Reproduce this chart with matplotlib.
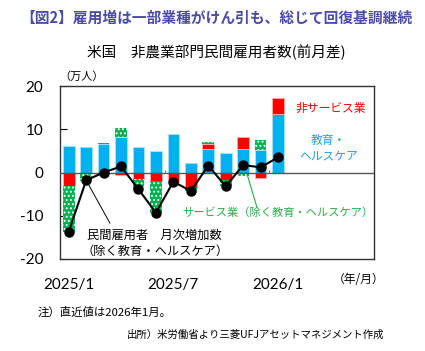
import matplotlib
matplotlib.use("Agg")
import matplotlib.pyplot as plt
import numpy as np

plt.rcParams['font.family'] = ['Noto Sans CJK JP', 'DejaVu Sans']
plt.rcParams['hatch.linewidth'] = 0.9

months = ["2025/1", "2025/2", "2025/3", "2025/4", "2025/5", "2025/6", "2025/7",
          "2025/8", "2025/9", "2025/10", "2025/11", "2025/12", "2026/1"]
edu_health = [6.1, 5.8, 6.7, 8.3, 6.0, 5.0, 8.8, 2.3, 5.4, 4.5, 5.5, 5.2, 13.6]
non_service = [-3.1, 0.2, -0.1, -0.5, -1.6, -1.9, -2.3, -3.6, 1.2, -1.8, 2.6, -1.2, 3.7]
service_ex = [-10.6, -2.0, 0.1, 1.9, -2.3, -7.4, 0.2, -0.7, 0.4, -1.4, -0.9, 2.4, -0.2]
private_ex = [-13.7, -1.8, 0.0, 1.4, -3.9, -9.3, -2.1, -4.3, 1.6, -3.2, 1.7, 1.2, 3.5]
tick_labels = ["2025/1", "2025/7", "2026/1"]
tick_idx = [0, 6, 12]

fig = plt.figure(figsize=(4.25, 3.51), dpi=100)
ax = fig.add_axes([60/425, 1-259/351, 314/425, 173/351])

x = np.arange(len(months))
w = 0.67
blue = '#00B0F0'
red = '#FF0000'
green = '#00B050'

pos_bottom = np.zeros(len(x))
neg_bottom = np.zeros(len(x))

def stack(vals, **kw):
    global pos_bottom, neg_bottom
    vals = np.array(vals, dtype=float)
    bottoms = np.where(vals >= 0, pos_bottom, neg_bottom)
    ax.bar(x, vals, w, bottom=bottoms, zorder=2, **kw)
    pos_bottom = pos_bottom + np.where(vals >= 0, vals, 0)
    neg_bottom = neg_bottom + np.where(vals < 0, vals, 0)

stack(edu_health, color=blue, edgecolor='#A8E2F8', linewidth=0.6)
stack(non_service, color=red, edgecolor='#FFB0B0', linewidth=0.6)
stack(service_ex, facecolor=green, edgecolor='white', linewidth=0.0, hatch='....')

ax.axhline(0, color='#555555', lw=1.0, zorder=3)
ax.vlines([5.5, 11.5], 0, 0.6, color='#777777', lw=0.8, zorder=3)
ax.plot(x, private_ex, color='black', lw=1.5, marker='o', ms=6.5, zorder=4)

ax.set_xlim(-0.5, 17.5)
ax.set_ylim(-20, 20)
ax.set_yticks([-20, -10, 0, 10, 20])
ax.set_yticklabels(['-20', '-10', '0', '10', '20'], fontfamily='Lato', fontsize=11)
ax.tick_params(axis='y', direction='in', length=5, pad=12, colors='black')
ax.set_xticks(tick_idx)
ax.set_xticklabels(tick_labels, fontfamily='Lato', fontsize=11)
ax.tick_params(axis='x', length=0, pad=14)
for s in ax.spines.values():
    s.set_color('#333333')
    s.set_linewidth(1.0)

ax.text(-0.55, 21.0, '（万人）', fontsize=8, ha='left', va='bottom')
ax.text(16.6, -24.8, '（年/月）', fontsize=8.5, ha='center', va='center')

ax.text(15.0, 14.9, '非サービス業', color=red, fontsize=8.5, ha='center', va='center')
ax.text(14.9, 5.6, '教育・\nヘルスケア', color='#1FA0E0', fontsize=8.5, ha='center', va='center',
        linespacing=1.3)
ax.text(12.0, -9.35, 'サービス業（除く教育・ヘルスケア）', color='#2DAA4A', fontsize=8.1,
        ha='center', va='center')
ax.plot([10.24, 10.8], [-0.6, -8.2], color='#2DAA4A', lw=0.8, zorder=5)
ax.text(4.93, -16.3, '民間雇用者　月次増加数\n（除く教育・ヘルスケア）', color='black', fontsize=8.8,
        ha='center', va='center', linespacing=1.3)
ax.plot([1.0, 2.36], [-1.8, -11.7], color='black', lw=0.7, zorder=5)

fig.text(216/425, 1-18/351, '【図2】雇用増は一部業種がけん引も、総じて回復基調継続',
         color='#4B4BA8', fontsize=10.6, fontweight='bold', ha='center', va='center')
fig.text(216/425, 1-52/351, '米国　非農業部門民間雇用者数(前月差)', color='black',
         fontsize=10.5, ha='center', va='center')
fig.text(38/425, 1-312/351, '注）直近値は2026年1月。', fontsize=8.2, ha='left', va='center')
fig.text(127/425, 1-335/351, '出所）米労働省より三菱UFJアセットマネジメント作成', fontsize=7.5,
         ha='left', va='center')

fig.savefig('out.png', dpi=100)
